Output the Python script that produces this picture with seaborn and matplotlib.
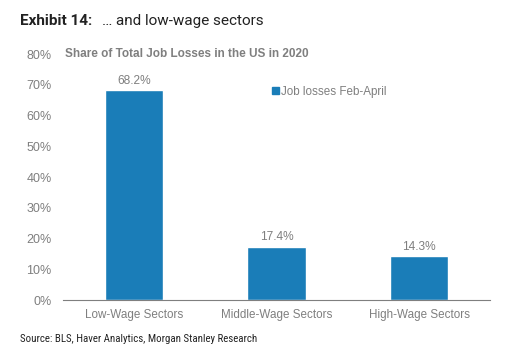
import numpy as np
import pandas as pd
import seaborn as sns
import matplotlib.pyplot as plt
from matplotlib.patches import Patch

# data
sectors = ["Low-Wage Sectors", "Middle-Wage Sectors", "High-Wage Sectors"]
job_losses = [68.2, 17.4, 14.3]
y_ticks = [0, 10, 20, 30, 40, 50, 60, 70, 80]

df = pd.DataFrame({"sector": sectors, "share": job_losses})

sns.set_style("white")
plt.rcParams["font.family"] = ["Liberation Sans", "DejaVu Sans"]

bar_color = "#1a7db8"
grey = "#7f7f7f"

fig = plt.figure(figsize=(5.15, 3.54), dpi=100)
ax = fig.add_axes([0.122, 0.152, 0.830, 0.695])

sns.barplot(data=df, x="sector", y="share", color=bar_color, width=0.41,
            saturation=1, ax=ax)

ax.set_ylim(0, 80)
ax.set_xlim(-0.5, 2.5)
ax.set_yticks(y_ticks)
ax.set_yticklabels([f"{t}%" for t in y_ticks], color=grey, fontsize=9)
ax.tick_params(axis="y", length=0, pad=8)
ax.set_xticks([-0.5, 0.5, 1.5, 2.5], minor=False)
ax.set_xticklabels([])
ax.tick_params(axis="x", which="major", direction="out", length=4, color=grey)
ax.set_xticks(range(len(sectors)), minor=True)
ax.set_xticklabels(sectors, minor=True, color=grey, fontsize=8.4)
ax.tick_params(axis="x", which="minor", length=0, pad=6)
ax.set_xlabel("")
ax.set_ylabel("")

for s in ["top", "right", "left"]:
    ax.spines[s].set_visible(False)
ax.spines["bottom"].set_color(grey)
ax.spines["bottom"].set_linewidth(0.8)

for i, v in enumerate(job_losses):
    ax.text(i, v + 1.2, f"{v:.1f}%", ha="center", va="bottom", color=grey, fontsize=8.6)

ax.text(0.005, 1.0, "Share of Total Job Losses in the US in 2020", transform=ax.transAxes,
        ha="left", va="center", color=grey, fontsize=8.5, fontweight="bold")

ax.legend(handles=[Patch(color=bar_color, label="Job losses Feb-April")],
          loc="upper left", bbox_to_anchor=(0.465, 0.915), frameon=False,
          handlelength=0.6, handleheight=0.6, handletextpad=0.2,
          labelcolor=grey, fontsize=8.4)

fig.text(0.039, 0.94, "Exhibit 14:", fontsize=11, fontweight="bold", color="#222222",
         family="Roboto", va="center")
fig.text(0.198, 0.94, "\u2026 and low-wage sectors", fontsize=11, color="#222222",
         family="Roboto", va="center")
fig.text(0.039, 0.035, "Source: BLS, Haver Analytics, Morgan Stanley Research",
         fontsize=7.8, color="#222222", family="Roboto Condensed")

fig.savefig("out.png", dpi=100, facecolor="white")
